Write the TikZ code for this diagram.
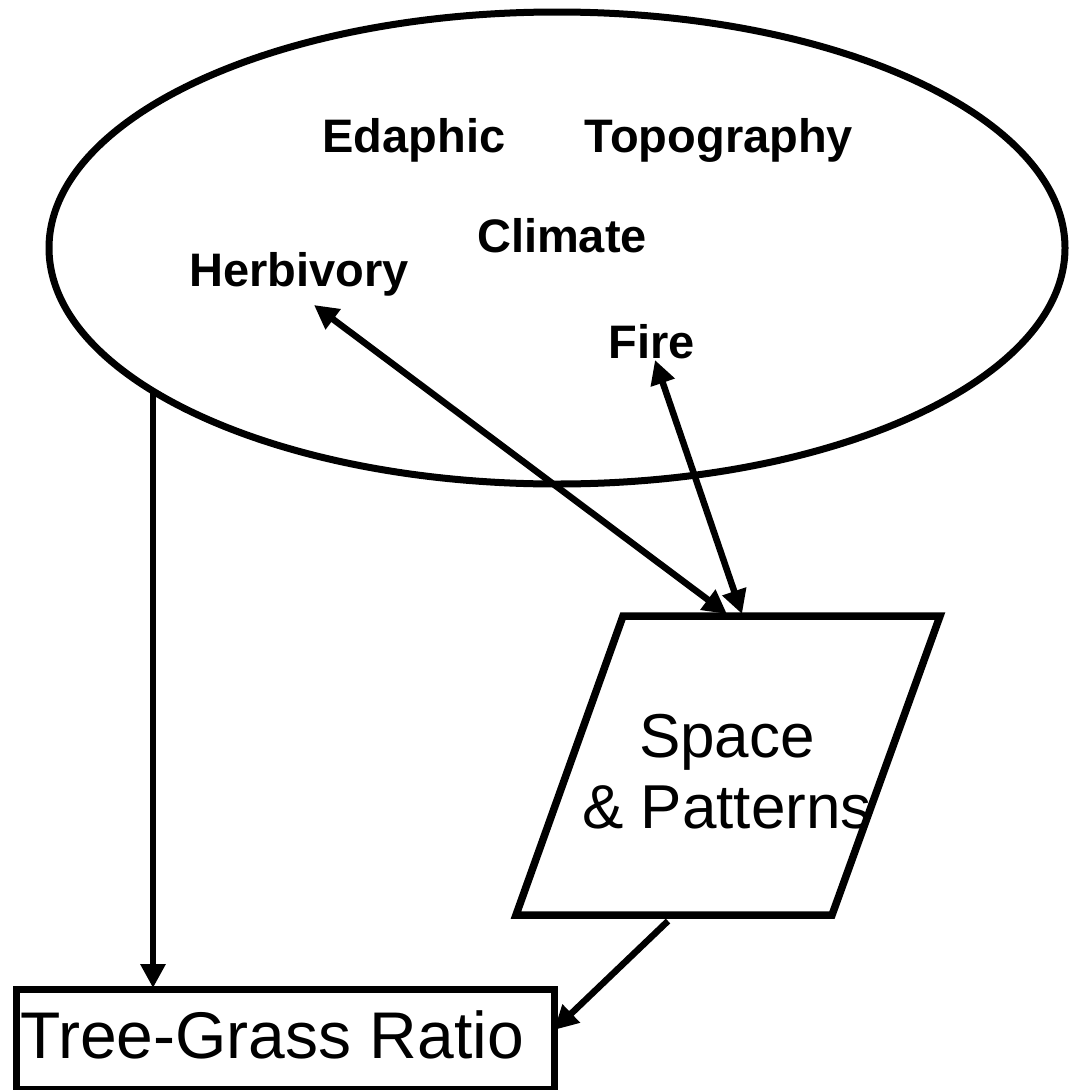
\documentclass[tikz,border=0pt]{standalone}
\usepackage{fontspec}
\setmainfont{Liberation Sans}
\usetikzlibrary{arrows.meta,shapes.geometric}
\begin{document}
\begin{tikzpicture}[x=1pt,y=-1pt,
  lbl/.style={font=\fontsize{47}{56}\selectfont\bfseries, inner sep=0pt, anchor=base},
  big/.style={font=\fontsize{62}{71}\selectfont, inner sep=0pt},
  conn/.style={line width=6.5pt, -{Triangle[length=24pt,width=24pt]}},
  dconn/.style={line width=6.5pt, {Triangle[length=24pt,width=24pt]}-{Triangle[length=24pt,width=24pt]}}
]
\useasboundingbox (0,0) rectangle (1070,1090);
% environment ellipse
\node[draw, line width=7pt, ellipse, minimum width=1016pt, minimum height=472pt, inner sep=0pt] (env) at (557,248) {};
\node[lbl] (edaphic) at (414,152) {Edaphic};
\node[lbl] (topo) at (719,152) {Topography};
\node[lbl] (climate) at (562,252) {Climate};
\node[lbl] (herb) at (299,286) {Herbivory};
\node[lbl] (fire) at (652,358) {Fire};
% parallelogram
\coordinate (ptl) at (623,616);
\coordinate (ptr) at (940,616);
\coordinate (pbr) at (832,915);
\coordinate (pbl) at (516,915);
\draw[line width=7.5pt, line join=miter] (ptl) -- (ptr) -- (pbr) -- (pbl) -- cycle;
\node[big, align=center, anchor=base] (sp) at (727,828) {Space\\\& Patterns};
% tree-grass box
\node[draw, line width=7pt, minimum width=538pt, minimum height=100pt, inner sep=0pt, anchor=north west] (tg) at (13,986) {};
\node[font=\fontsize{66}{72}\selectfont, inner sep=0pt, anchor=base] (tgtext) at (272,1058) {Tree-Grass Ratio};
% connector endpoints
\coordinate (envout) at (153,390);
\coordinate (tgtop) at (153,988);
\coordinate (herbtip) at (314,305);
\coordinate (sptop1) at (727,614);
\coordinate (firetip) at (655,360);
\coordinate (sptop2) at (742,614);
\coordinate (spbot) at (668,921);
\coordinate (tgright) at (554,1030);
\draw[conn] (envout) -- (tgtop);
\draw[dconn] (herbtip) -- (sptop1);
\draw[dconn] (firetip) -- (sptop2);
\draw[conn] (spbot) -- (tgright);
\end{tikzpicture}
\end{document}
